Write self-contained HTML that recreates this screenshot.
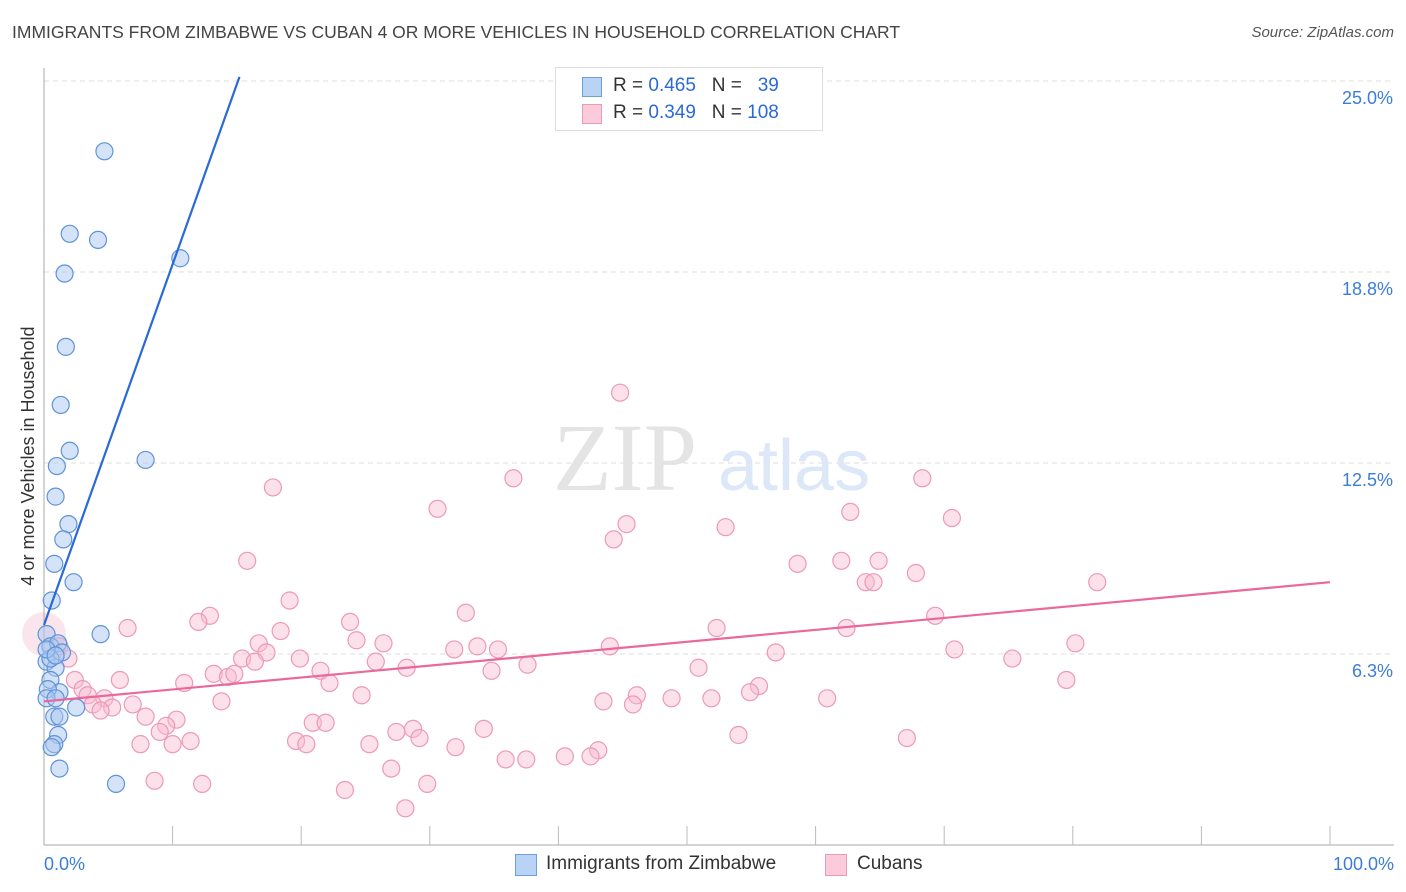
<!DOCTYPE html>
<html><head><meta charset="utf-8"><style>
body{margin:0;background:#fff;font-family:"Liberation Sans",sans-serif;}
#wrap{position:relative;width:1406px;height:892px;overflow:hidden;}
.t{position:absolute;white-space:nowrap;}
</style></head><body>
<div id="wrap">
<div class="t" style="left:12px;top:22px;font-size:17.5px;color:#444;">IMMIGRANTS FROM ZIMBABWE VS CUBAN 4 OR MORE VEHICLES IN HOUSEHOLD CORRELATION CHART</div>
<div class="t" style="right:12px;top:24px;font-size:15px;color:#555;font-style:italic;">Source: ZipAtlas.com</div>
<svg id="svg" width="1406" height="892" style="position:absolute;left:0;top:0"></svg>
</div>
<script>
const yTicks=[25.0,18.8,12.5,6.3];
const yTickVals=[25,18.75,12.5,6.25];
const xTickLabels=["0.0%","100.0%"];
const blueX=[4.7,2.0,4.2,1.6,10.6,1.7,1.3,2.0,7.9,1.0,0.9,1.9,1.5,0.8,0.6,2.3,4.4,0.2,0.5,1.1,1.4,0.2,0.9,0.5,1.2,0.3,0.2,0.9,2.5,0.8,1.2,1.1,0.8,0.6,1.2,5.6,0.5,0.2,0.9];
const blueY=[22.7,20.0,19.8,18.7,19.2,16.3,14.4,12.9,12.6,12.4,11.4,10.5,10.0,9.2,8.0,8.6,6.9,6.9,6.5,6.6,6.3,6.0,5.8,5.4,5.0,5.1,4.8,4.8,4.5,4.2,4.2,3.6,3.3,3.2,2.5,2.0,6.1,6.4,6.2];
const pinkX=[44.8,17.8,30.6,36.5,68.3,62.7,70.6,45.3,53.0,44.3,15.8,58.6,62.0,64.9,67.8,63.9,64.5,81.9,19.1,32.8,12.9,12.0,23.8,6.5,52.3,62.4,69.3,18.4,24.3,16.7,26.4,44.0,33.7,35.3,31.9,80.2,70.8,56.9,17.3,15.4,19.9,16.4,25.8,28.2,37.6,1.9,1.2,50.9,75.3,21.5,34.8,13.2,14.3,14.8,22.2,5.9,10.9,2.4,3.0,79.5,3.4,24.7,46.1,55.6,54.9,48.8,51.9,4.7,43.5,45.8,60.9,3.8,5.3,4.4,13.8,6.9,7.9,10.3,20.9,21.9,9.5,9.0,34.2,27.4,28.7,54.0,67.1,11.4,29.2,7.5,10.0,19.6,20.4,25.3,32.0,43.1,35.9,37.5,40.5,42.5,27.0,8.6,12.3,29.8,23.4,28.1];
const pinkY=[14.8,11.7,11.0,12.0,12.0,10.9,10.7,10.5,10.4,10.0,9.3,9.2,9.3,9.3,8.9,8.6,8.6,8.6,8.0,7.6,7.5,7.3,7.3,7.1,7.1,7.1,7.5,7.0,6.7,6.6,6.6,6.5,6.5,6.4,6.4,6.6,6.4,6.3,6.3,6.1,6.1,6.0,6.0,5.8,5.9,6.1,6.5,5.8,6.1,5.7,5.7,5.6,5.5,5.6,5.3,5.4,5.3,5.4,5.1,5.4,4.9,4.9,4.9,5.2,5.0,4.8,4.8,4.8,4.7,4.6,4.8,4.6,4.5,4.4,4.7,4.6,4.2,4.1,4.0,4.0,3.9,3.7,3.8,3.7,3.8,3.6,3.5,3.4,3.5,3.3,3.3,3.4,3.3,3.3,3.2,3.1,2.8,2.8,2.9,2.9,2.5,2.1,2.0,2.0,1.8,1.2];
const blueLine=[7.2,1.18]; // intercept, slope (per % x)
const pinkLine=[4.7,0.039];
const blueLineEnd=15.2;
const NS="http://www.w3.org/2000/svg";
const svg=document.getElementById('svg');
const X=v=>44+v*12.86;
const Y=v=>845-v*30.56;
function mk(t,a){const e=document.createElementNS(NS,t);for(const k in a)e.setAttribute(k,a[k]);svg.appendChild(e);return e;}
yTickVals.forEach((v,i)=>{
 const g=mk('line',{x1:44,x2:1394,y1:Y(v),y2:Y(v),stroke:'#ddd','stroke-dasharray':'5,4'});
 
 
 const t=mk('text',{x:1393,y:Y(v)+23,'text-anchor':'end','font-size':18,fill:'#3b7dd8','font-family':'Liberation Sans'});
 t.textContent=yTicks[i].toFixed(1)+'%';
 
 
});
mk('line',{x1:44,x2:44,y1:68,y2:845,stroke:'#aaa'});
const xa=mk('line',{x1:44,x2:1394,y1:845,y2:845,stroke:'#aaa'});


for(let i=1;i<=10;i++){const tk=mk('line',{x1:X(i*10),x2:X(i*10),y1:826,y2:845,stroke:'#bbb'});
 
 }
[[0,'start',44],[1,'end',1394]].forEach(([i,a,x])=>{const t=mk('text',{x:x,y:870,'text-anchor':a,'font-size':18,fill:'#3b7dd8','font-family':'Liberation Sans'});t.textContent=xTickLabels[i];
 
 });
const yl=mk('text',{transform:'translate(34,456) rotate(-90)','text-anchor':'middle','font-size':18,fill:'#333','font-family':'Liberation Sans'});
yl.textContent='4 or more Vehicles in Household';


const w1=mk('text',{x:553,y:490,'font-size':96,fill:'#e4e4e4','font-family':'Liberation Serif'});w1.textContent='ZIP';


const w2=mk('text',{x:718,y:490,'font-size':72,fill:'#dce8f7','font-family':'Liberation Sans'});w2.textContent='atlas';


const big=mk('circle',{cx:X(0),cy:Y(6.9),r:22,fill:'rgba(240,150,180,0.25)'});


pinkX.forEach((x,i)=>{const c=mk('circle',{cx:X(x),cy:Y(pinkY[i]),r:8.5,fill:'rgba(248,187,208,0.45)',stroke:'#ec9ab6','stroke-width':1.2});
 
 });
blueX.forEach((x,i)=>{const c=mk('circle',{cx:X(x),cy:Y(blueY[i]),r:8.5,fill:'rgba(170,200,240,0.5)',stroke:'#5f93d8','stroke-width':1.2});
 
 });
const bl=mk('line',{x1:X(0),y1:Y(blueLine[0]),x2:X(blueLineEnd),y2:Y(blueLine[0]+blueLine[1]*blueLineEnd),stroke:'#2a6ad6','stroke-width':2.2});


const pl=mk('line',{x1:X(0),y1:Y(pinkLine[0]),x2:X(100),y2:Y(pinkLine[0]+pinkLine[1]*100),stroke:'#e8699a','stroke-width':2.2});


</script>
<div class="t" style="left:555px;top:67px;width:266px;height:62px;border:1px solid #ddd;background:#fff;">
 <div style="position:absolute;left:26px;top:9px;width:18px;height:18px;background:#b9d3f5;border:1px solid #6d9fe0;"></div>
 <div class="t" style="left:57px;top:7px;font-size:19px;color:#333;">R = <span style="color:#2a6ad6">0.465</span>&nbsp;&nbsp;&nbsp;N = &nbsp;&nbsp;<span style="color:#2a6ad6">39</span></div>
 <div style="position:absolute;left:26px;top:36px;width:18px;height:18px;background:#fbcadb;border:1px solid #ec9ab6;"></div>
 <div class="t" style="left:57px;top:34px;font-size:19px;color:#333;">R = <span style="color:#2a6ad6">0.349</span>&nbsp;&nbsp;&nbsp;N = <span style="color:#2a6ad6">108</span></div>
</div>
<div style="position:absolute;left:515px;top:854px;width:20px;height:20px;background:#b9d3f5;border:1px solid #6d9fe0;"></div>
<div class="t" style="left:546px;top:853px;font-size:19px;color:#333;">Immigrants from Zimbabwe</div>
<div style="position:absolute;left:825px;top:854px;width:20px;height:20px;background:#fbcadb;border:1px solid #ec9ab6;"></div>
<div class="t" style="left:857px;top:853px;font-size:19px;color:#333;">Cubans</div>
</body></html>
